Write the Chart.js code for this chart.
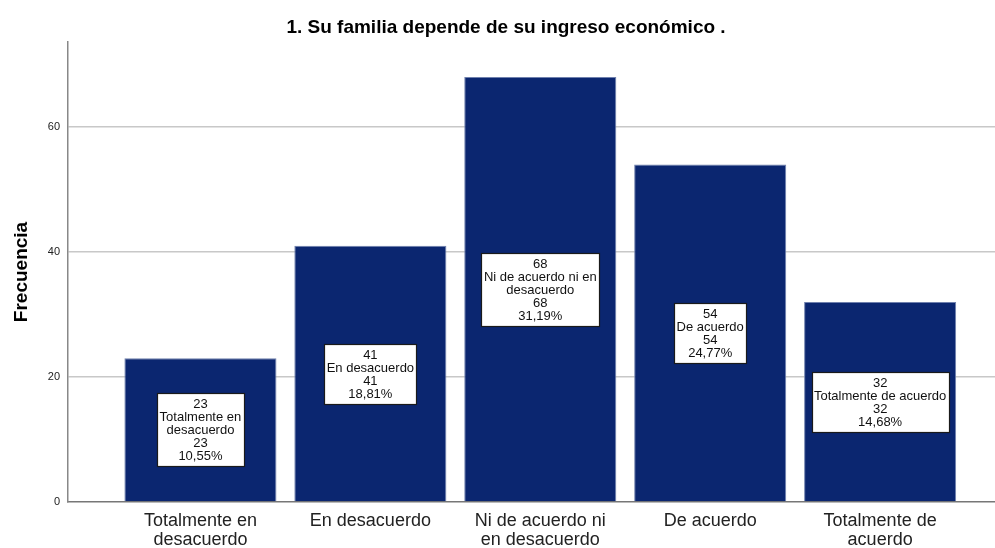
<!DOCTYPE html>
<html>
<head>
<meta charset="utf-8">
<script src="https://cdn.jsdelivr.net/npm/chart.js@4"></script>
<style>
  body { margin: 0; background: #fff; }
  #wrap { width: 995px; height: 548px; position: relative; }
</style>
</head>
<body>
<div id="wrap"><canvas id="freqChart"></canvas></div>
<script>
// data
const categories = [
  ['Totalmente en', 'desacuerdo'],
  ['En desacuerdo'],
  ['Ni de acuerdo ni', 'en desacuerdo'],
  ['De acuerdo'],
  ['Totalmente de', 'acuerdo']
];
const boxLabels = [
  ['Totalmente en', 'desacuerdo'],
  ['En desacuerdo'],
  ['Ni de acuerdo ni en', 'desacuerdo'],
  ['De acuerdo'],
  ['Totalmente de acuerdo']
];
const frequencies = [23, 41, 68, 54, 32];
const percents = ['10,55%', '18,81%', '31,19%', '24,77%', '14,68%'];
const yTicks = [0, 20, 40, 60];

const chartTitle = '1. Su familia depende de su ingreso económico .';
const FONT = '"Liberation Sans", Arial, sans-serif';

// title drawn by hand so it sits where the original has it
const titlePlugin = {
  id: 'titleText',
  afterDraw(chart) {
    const c = chart.ctx;
    c.save();
    c.font = 'bold 19px ' + FONT;
    c.fillStyle = '#000';
    c.textAlign = 'center';
    c.textBaseline = 'middle';
    c.fillText(chartTitle, 506, 28);
    c.restore();
  }
};

// white boxes inside the bars
const boxPlugin = {
  id: 'barBoxes',
  afterDatasetsDraw(chart) {
    const c = chart.ctx;
    const meta = chart.getDatasetMeta(0);
    const lh = 13;
    c.save();
    c.font = '13px ' + FONT;
    c.textAlign = 'center';
    c.textBaseline = 'middle';
    meta.data.forEach((bar, i) => {
      const lines = [String(frequencies[i]), ...boxLabels[i], String(frequencies[i]), percents[i]];
      const w = Math.max(...lines.map(l => c.measureText(l).width)) + 5;
      const h = lines.length * lh + 8;
      const cx = bar.x;
      const cy = (bar.y + bar.base) / 2;
      const x0 = Math.round(cx - w / 2) + 0.5;
      const y0 = Math.round(cy - h / 2) + 0.5;
      c.fillStyle = '#fff';
      c.fillRect(x0, y0, Math.round(w), h);
      c.strokeStyle = '#1a1a1a';
      c.lineWidth = 1.2;
      c.strokeRect(x0, y0, Math.round(w), h);
      c.fillStyle = '#111';
      lines.forEach((l, k) => {
        c.fillText(l, cx, y0 + 4 + lh * k + lh / 2 + 0.5);
      });
    });
    c.restore();
  }
};

const ctx = document.getElementById('freqChart').getContext('2d');
new Chart(ctx, {
  type: 'bar',
  data: {
    datasets: [{
      data: frequencies.map((v, i) => ({ x: i + 1, y: v })),
      backgroundColor: '#0b2670',
      borderColor: '#6f80ad',
      borderWidth: 1,
      barPercentage: 0.895,
      categoryPercentage: 1
    }]
  },
  options: {
    responsive: true,
    maintainAspectRatio: false,
    animation: false,
    layout: { padding: { top: 42, left: 0, right: 0, bottom: 0 } },
    plugins: {
      legend: { display: false },
      title: { display: false },
      tooltip: { enabled: false }
    },
    scales: {
      x: {
        type: 'linear',
        offset: false,
        min: 0.2206,
        max: 5.676,
        afterBuildTicks: axis => { axis.ticks = categories.map((c, i) => ({ value: i + 1 })); },
        afterFit: axis => { axis.height = 46; },
        grid: { display: false, drawTicks: false },
        border: { display: true, color: '#777', width: 1.5 },
        ticks: {
          autoSkip: false,
          maxRotation: 0,
          padding: 10,
          color: '#222',
          font: { family: FONT, size: 18, lineHeight: 1.05 },
          callback: v => categories[v - 1] || ''
        }
      },
      y: {
        min: 0,
        max: 73.6,
        afterBuildTicks: axis => { axis.ticks = yTicks.map(v => ({ value: v })); },
        afterFit: axis => { axis.width = 68; },
        grid: {
          drawTicks: false,
          color: ctx => ctx.tick && ctx.tick.value === 0 ? 'rgba(0,0,0,0)' : '#c8c8c8',
          lineWidth: 1.5
        },
        border: { display: true, color: '#888', width: 1.5 },
        ticks: {
          padding: 8,
          color: '#222',
          font: { family: FONT, size: 11 }
        },
        title: {
          display: true,
          text: 'Frecuencia',
          color: '#000',
          font: { family: FONT, size: 19, weight: 'bold' },
          padding: { top: 10, bottom: 0 }
        }
      }
    }
  },
  plugins: [titlePlugin, boxPlugin]
});
</script>
</body>
</html>
